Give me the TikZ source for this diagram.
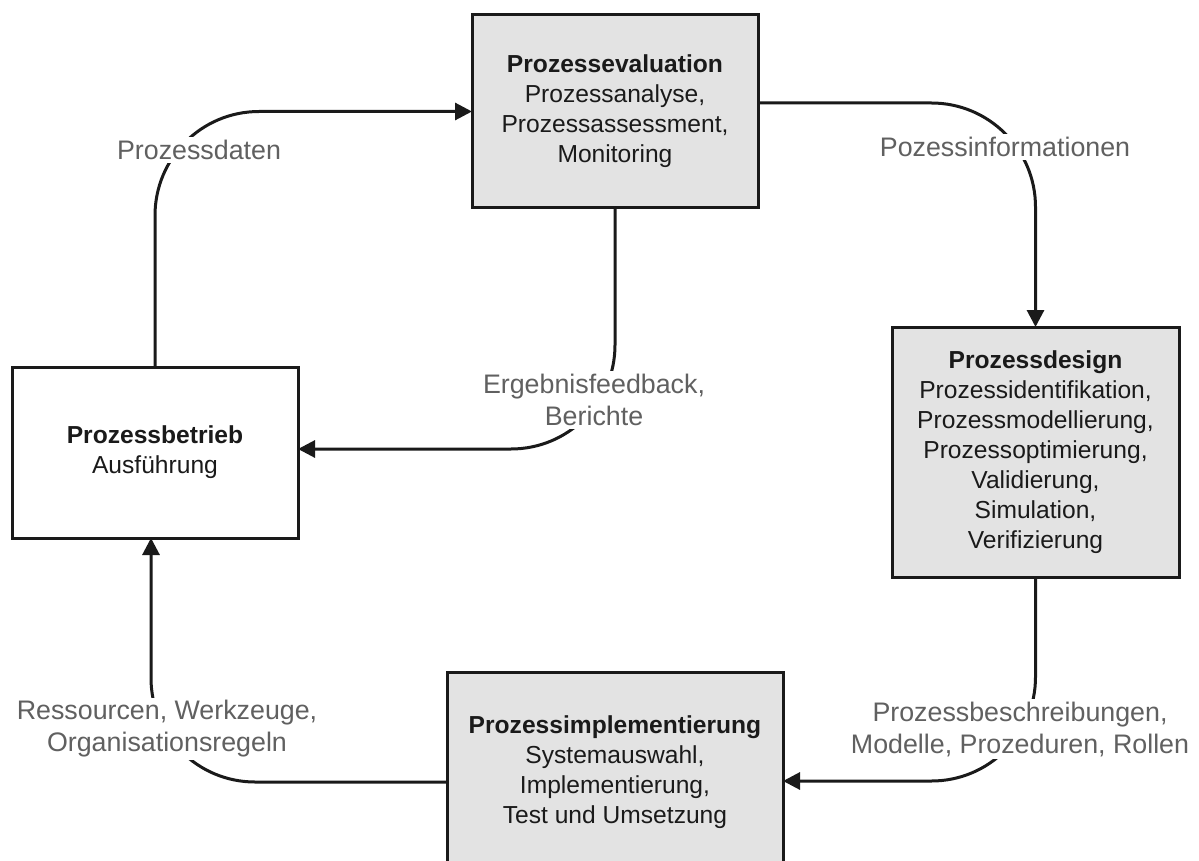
\documentclass[tikz,border=0pt]{standalone}
\usepackage{fontspec}
\setmainfont{Liberation Sans}
\usetikzlibrary{arrows.meta}
\definecolor{boxfill}{HTML}{E3E3E3}
\definecolor{ink}{HTML}{1A1A1A}
\definecolor{labelgray}{HTML}{606060}
\begin{document}
\begin{tikzpicture}[x=1pt,y=-1pt,
  stage/.style={draw=ink, line width=3pt, align=center, text=ink,
    font=\fontsize{24.6}{30}\selectfont, inner sep=0pt, outer sep=0pt},
  greystage/.style={stage, fill=boxfill},
  flow/.style={draw=ink, line width=3pt, rounded corners=104pt,
    -{Triangle[length=17pt,width=17pt]}},
  tag/.style={fill=white, text=labelgray, align=center,
    font=\fontsize{26.8}{32}\selectfont, inner sep=3pt}
]
% page frame
\clip (0,0) rectangle (1199,861);
\fill[white] (0,0) rectangle (1199,861);

% process stages
\node[greystage, minimum width=286pt, minimum height=193pt] (eval) at (615,111.5)
  {\textbf{Prozessevaluation}\\Prozessanalyse,\\Prozessassessment,\\Monitoring};
\node[greystage, minimum width=287pt, minimum height=250pt] (design) at (1035.5,452)
  {\textbf{Prozessdesign}\\Prozessidentifikation,\\Prozessmodellierung,\\Prozessoptimierung,\\Validierung,\\Simulation,\\Verifizierung};
\node[greystage, minimum width=336pt, minimum height=200pt] (impl) at (615,772)
  {\textbf{Prozessimplementierung}\\Systemauswahl,\\Implementierung,\\Test und Umsetzung};
\node[stage, fill=white, minimum width=286pt, minimum height=171pt] (betrieb) at (155,452.5)
  {\textbf{Prozessbetrieb}\\Ausführung};

% cycle connectors
\draw[flow] (betrieb.north) |- (eval.west);
\draw[flow] ([yshift=8.5pt]eval.east) -| (design.north);
\draw[flow] (design.south) |- ([yshift=-9pt]impl.east);
\draw[flow] ([yshift=-10pt]impl.west) -| ([xshift=-4pt]betrieb.south);
\draw[flow] (eval.south) |- ([yshift=3.5pt]betrieb.east);

% connector labels
\node[tag] (tdaten) at (199,150) {Prozessdaten};
\node[tag] (tinfo) at (1005,147) {Pozessinformationen};
\node[tag] (tfeedback) at (594,400) {Ergebnisfeedback,\\Berichte};
\node[tag] (tbeschr) at (1020,729) {Prozessbeschreibungen,\\Modelle, Prozeduren, Rollen};
\node[tag] (tressourcen) at (167,729) {Ressourcen, Werkzeuge,\\Organisationsregeln};
\end{tikzpicture}
\end{document}
